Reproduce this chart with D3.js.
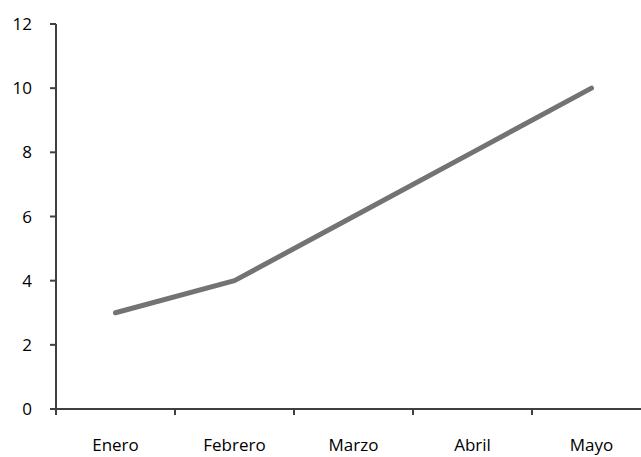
<!DOCTYPE html>
<html>
  <head>
    <style>
      body { margin: 0px; overflow: hidden; background: #fff; }
      text { font-family: "Open Sans", "Liberation Sans", sans-serif; font-size: 17px; fill: #000; }
    </style>
    <script src="https://d3js.org/d3.v7.min.js"></script>
  </head>
  <body>
    <svg width="641" height="457"></svg>
    <script>
      const months = ['Enero', 'Febrero', 'Marzo', 'Abril', 'Mayo'];
      const values = [3, 4, 6, 8, 10];
      const yTicks = [0, 2, 4, 6, 8, 10, 12];

      const svg = d3.select('svg');
      const plotLeft = 56, plotTop = 24, plotBottom = 409, plotRight = 651;

      const xScale = d3.scaleBand().domain(months).range([plotLeft, plotRight]);
      const yScale = d3.scaleLinear().domain([0, 12]).range([plotBottom, plotTop]);
      const axisColor = '#404040';

      // y axis
      svg.append('line')
        .attr('x1', plotLeft).attr('x2', plotLeft)
        .attr('y1', plotTop).attr('y2', plotBottom)
        .attr('stroke', axisColor).attr('stroke-width', 2);
      svg.selectAll('.ytick').data(yTicks).enter().append('line')
        .attr('x1', plotLeft - 6).attr('x2', plotLeft)
        .attr('y1', d => yScale(d)).attr('y2', d => yScale(d))
        .attr('stroke', axisColor).attr('stroke-width', 2);
      svg.selectAll('.ylab').data(yTicks).enter().append('text')
        .attr('x', 32).attr('y', d => yScale(d))
        .attr('dy', '0.36em')
        .attr('text-anchor', 'end')
        .text(d => d);

      // x axis
      svg.append('line')
        .attr('x1', plotLeft - 6).attr('x2', 641)
        .attr('y1', plotBottom).attr('y2', plotBottom)
        .attr('stroke', axisColor).attr('stroke-width', 2);
      svg.selectAll('.xtick').data(months).enter().append('line')
        .attr('x1', d => xScale(d)).attr('x2', d => xScale(d))
        .attr('y1', plotBottom).attr('y2', plotBottom + 6)
        .attr('stroke', axisColor).attr('stroke-width', 2);
      svg.selectAll('.xlab').data(months).enter().append('text')
        .attr('x', d => xScale(d) + xScale.bandwidth() / 2)
        .attr('y', 451)
        .attr('text-anchor', 'middle')
        .text(d => d);

      // line
      const line = d3.line()
        .x((d, i) => xScale(months[i]) + xScale.bandwidth() / 2)
        .y(d => yScale(d));
      svg.append('path')
        .datum(values)
        .attr('d', line)
        .attr('fill', 'none')
        .attr('stroke', '#737373')
        .attr('stroke-width', 5)
        .attr('stroke-linecap', 'round')
        .attr('stroke-linejoin', 'round');
    </script>
  </body>
</html>
